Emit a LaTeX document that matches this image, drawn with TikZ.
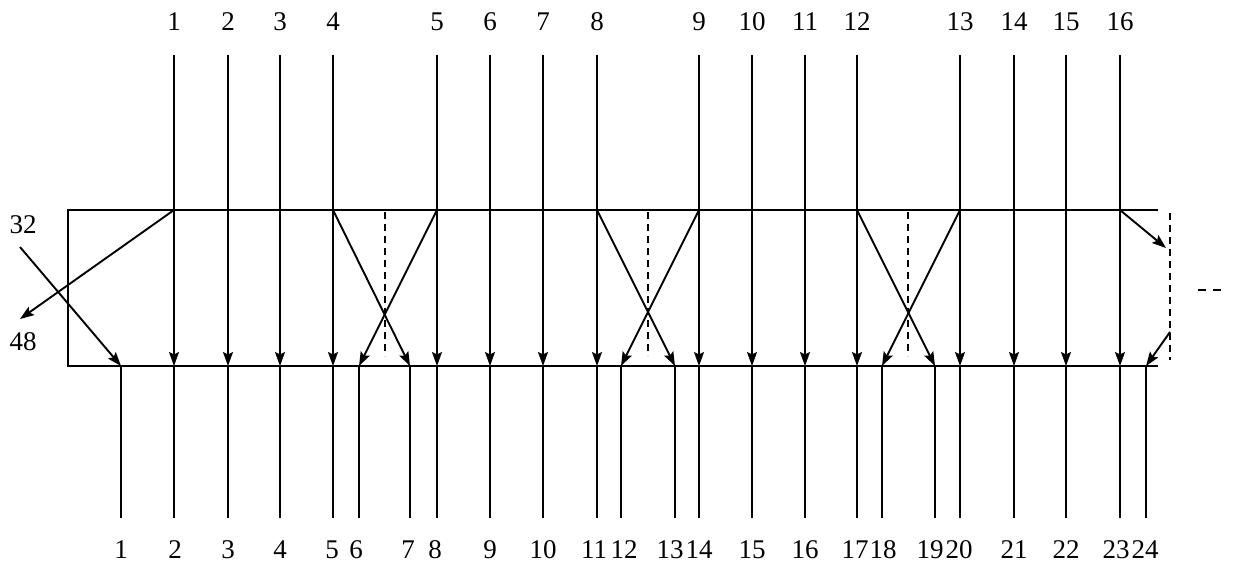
\documentclass[tikz,border=0pt]{standalone}
\usepackage{fontspec}
\setmainfont{Liberation Serif}
\usetikzlibrary{arrows.meta}
\begin{document}
\begin{tikzpicture}[x=1pt,y=-1pt, line width=1.9pt,
  arr/.style={-{Stealth[length=14pt,width=10pt,inset=2.5pt]}},
  lbl/.style={font=\fontsize{27}{29}\selectfont, inner sep=0pt},
  dsh/.style={dash pattern=on 7pt off 5pt, line width=1.5pt}]
\useasboundingbox (0,0) rectangle (1234,572);
% frame
\coordinate (tl) at (68,210); \coordinate (tr) at (1158,210);
\coordinate (bl) at (68,366); \coordinate (br) at (1158,366);
\draw (tr) -- (tl) -- (bl) -- (br);
% top lines
\foreach \i/\x in {1/174,2/228,3/280,4/333,5/437,6/490,7/543,8/597,9/699,10/752,11/805,12/857,13/960,14/1014,15/1066,16/1120}{
  \node[lbl] (t\i) at (\x,22) {\i};
  \coordinate (ts\i) at (\x,55);
  \coordinate (tm\i) at (\x,210);
  \coordinate (tb\i) at (\x,366);
  \draw[arr] (ts\i) -- (tb\i);
}
% bottom lines
\foreach \i/\x/\lx in {1/121/121,2/174/175,3/228/228,4/280/280,5/333/332,6/359/356,7/410/408,8/437/435,9/490/490,10/543/543,11/597/594,12/621/624,13/675/670,14/699/699,15/752/752,16/805/805,17/857/855,18/882/883,19/935/930,20/960/959,21/1014/1014,22/1066/1066,23/1120/1116,24/1146/1145}{
  \coordinate (bb\i) at (\x,366);
  \coordinate (be\i) at (\x,518);
  \draw (bb\i) -- (be\i);
  \node[lbl] (b\i) at (\lx,550) {\i};
}
% crossings
\draw[arr] (tm4) -- (bb7);
\draw[arr] (tm5) -- (bb6);
\coordinate (d1a) at (385,212); \coordinate (d1b) at (385,356);
\draw[dsh] (d1a) -- (d1b);
\draw[arr] (tm8) -- (bb13);
\draw[arr] (tm9) -- (bb12);
\coordinate (d2a) at (648,212); \coordinate (d2b) at (648,356);
\draw[dsh] (d2a) -- (d2b);
\draw[arr] (tm12) -- (bb19);
\draw[arr] (tm13) -- (bb18);
\coordinate (d3a) at (908,212); \coordinate (d3b) at (908,356);
\draw[dsh] (d3a) -- (d3b);
% left
\node[lbl] (n32) at (23,225) {32};
\node[lbl] (n48) at (23,342) {48};
\coordinate (l32) at (20,247);
\coordinate (l48) at (20,319);
\draw[arr] (tm1) -- (l48);
\draw[arr] (l32) -- (bb1);
% right
\coordinate (r1) at (1166,248);
\coordinate (r2) at (1170,332);
\coordinate (rd1) at (1170,213); \coordinate (rd2) at (1170,360);
\draw[arr] (tm16) -- (r1);
\draw[dsh] (rd1) -- (rd2);
\draw[arr] (r2) -- (bb24);
\coordinate (e1) at (1198,290); \coordinate (e2) at (1221,290);
\draw[dash pattern=on 8pt off 7pt, line width=1.3pt] (e1) -- (e2);
\end{tikzpicture}
\end{document}
